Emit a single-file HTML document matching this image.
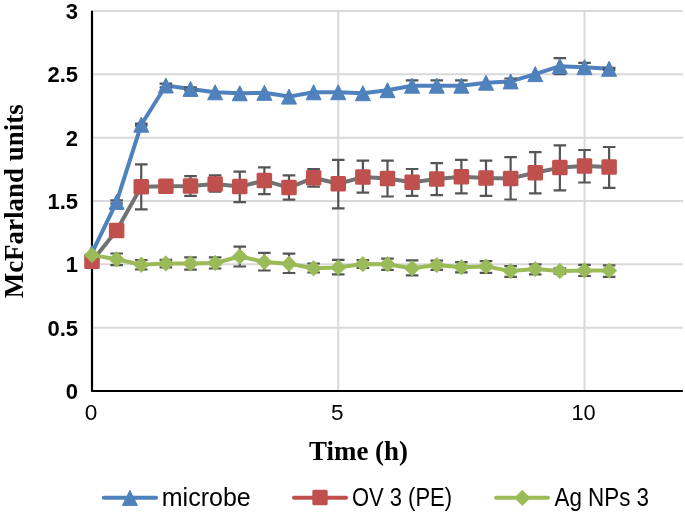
<!DOCTYPE html><html><head><meta charset="utf-8"><style>html,body{margin:0;padding:0;background:#fff;}svg{display:block;will-change:transform;}</style></head><body>
<svg width="685" height="514" viewBox="0 0 685 514">
<rect width="685" height="514" fill="#fff"/>
<path d="M93 327.67H683 M93 264.33H683 M93 201H683 M93 137.66H683 M93 74.32H683 M93 10.99H683 M338.25 11V390 M584.5 11V390" stroke="#D9D9D9" stroke-width="2" fill="none"/>
<path d="M92 11.6V391H682" stroke="#000" stroke-width="2.2" fill="none" stroke-linecap="round" stroke-linejoin="round"/>
<path d="M92 252.9L116.62 201.9L141.25 124.7L165.88 85.5L190.5 88.9L215.12 92.3L239.75 93.3L264.38 92.8L289 96.6L313.62 92.3L338.25 92.2L362.88 93.2L387.5 90.2L412.12 85.7L436.75 85.7L461.38 85.7L486 82.7L510.62 81.4L535.25 74.1L559.88 66.2L584.5 67.2L609.12 68.8" stroke="#4F81BD" stroke-width="4.0" fill="none" stroke-linejoin="round" stroke-linecap="round"/>
<g stroke="#555555" stroke-width="2.2" fill="none"><path d="M116.62 200.4V203.4M110.33 200.4H122.92M110.33 203.4H122.92"/><path d="M141.25 123.7V125.7M134.95 123.7H147.55M134.95 125.7H147.55"/><path d="M165.88 83.7V87.3M159.57 83.7H172.18M159.57 87.3H172.18"/><path d="M190.5 87.4V90.4M184.2 87.4H196.8M184.2 90.4H196.8"/><path d="M412.12 80.3V91.1M405.82 80.3H418.43M405.82 91.1H418.43"/><path d="M436.75 80.3V91.1M430.45 80.3H443.05M430.45 91.1H443.05"/><path d="M461.38 80.3V91.1M455.07 80.3H467.68M455.07 91.1H467.68"/><path d="M510.62 78.5V84.3M504.32 78.5H516.92M504.32 84.3H516.92"/><path d="M559.88 58.15V74.25M553.58 58.15H566.17M553.58 74.25H566.17"/><path d="M584.5 62.8V71.6M578.2 62.8H590.8M578.2 71.6H590.8"/><path d="M609.12 67.8V69.8M602.83 67.8H615.42M602.83 69.8H615.42"/></g>
<path d="M92 245.4L99.5 260.4L84.5 260.4Z" fill="#4F81BD" stroke="#4F81BD" stroke-width="1" stroke-linejoin="round"/><path d="M116.62 194.4L124.12 209.4L109.12 209.4Z" fill="#4F81BD" stroke="#4F81BD" stroke-width="1" stroke-linejoin="round"/><path d="M141.25 117.2L148.75 132.2L133.75 132.2Z" fill="#4F81BD" stroke="#4F81BD" stroke-width="1" stroke-linejoin="round"/><path d="M165.88 78L173.38 93L158.38 93Z" fill="#4F81BD" stroke="#4F81BD" stroke-width="1" stroke-linejoin="round"/><path d="M190.5 81.4L198 96.4L183 96.4Z" fill="#4F81BD" stroke="#4F81BD" stroke-width="1" stroke-linejoin="round"/><path d="M215.12 84.8L222.62 99.8L207.62 99.8Z" fill="#4F81BD" stroke="#4F81BD" stroke-width="1" stroke-linejoin="round"/><path d="M239.75 85.8L247.25 100.8L232.25 100.8Z" fill="#4F81BD" stroke="#4F81BD" stroke-width="1" stroke-linejoin="round"/><path d="M264.38 85.3L271.88 100.3L256.88 100.3Z" fill="#4F81BD" stroke="#4F81BD" stroke-width="1" stroke-linejoin="round"/><path d="M289 89.1L296.5 104.1L281.5 104.1Z" fill="#4F81BD" stroke="#4F81BD" stroke-width="1" stroke-linejoin="round"/><path d="M313.62 84.8L321.12 99.8L306.12 99.8Z" fill="#4F81BD" stroke="#4F81BD" stroke-width="1" stroke-linejoin="round"/><path d="M338.25 84.7L345.75 99.7L330.75 99.7Z" fill="#4F81BD" stroke="#4F81BD" stroke-width="1" stroke-linejoin="round"/><path d="M362.88 85.7L370.38 100.7L355.38 100.7Z" fill="#4F81BD" stroke="#4F81BD" stroke-width="1" stroke-linejoin="round"/><path d="M387.5 82.7L395 97.7L380 97.7Z" fill="#4F81BD" stroke="#4F81BD" stroke-width="1" stroke-linejoin="round"/><path d="M412.12 78.2L419.62 93.2L404.62 93.2Z" fill="#4F81BD" stroke="#4F81BD" stroke-width="1" stroke-linejoin="round"/><path d="M436.75 78.2L444.25 93.2L429.25 93.2Z" fill="#4F81BD" stroke="#4F81BD" stroke-width="1" stroke-linejoin="round"/><path d="M461.38 78.2L468.88 93.2L453.88 93.2Z" fill="#4F81BD" stroke="#4F81BD" stroke-width="1" stroke-linejoin="round"/><path d="M486 75.2L493.5 90.2L478.5 90.2Z" fill="#4F81BD" stroke="#4F81BD" stroke-width="1" stroke-linejoin="round"/><path d="M510.62 73.9L518.12 88.9L503.12 88.9Z" fill="#4F81BD" stroke="#4F81BD" stroke-width="1" stroke-linejoin="round"/><path d="M535.25 66.6L542.75 81.6L527.75 81.6Z" fill="#4F81BD" stroke="#4F81BD" stroke-width="1" stroke-linejoin="round"/><path d="M559.88 58.7L567.38 73.7L552.38 73.7Z" fill="#4F81BD" stroke="#4F81BD" stroke-width="1" stroke-linejoin="round"/><path d="M584.5 59.7L592 74.7L577 74.7Z" fill="#4F81BD" stroke="#4F81BD" stroke-width="1" stroke-linejoin="round"/><path d="M609.12 61.3L616.62 76.3L601.62 76.3Z" fill="#4F81BD" stroke="#4F81BD" stroke-width="1" stroke-linejoin="round"/>
<path d="M92 261.2L116.62 230.5L141.25 186.7L165.88 186.3L190.5 186.1L215.12 183.9L239.75 186.6L264.38 180.6L289 187.6L313.62 177.8L338.25 183.8L362.88 177.1L387.5 178.5L412.12 182.2L436.75 179L461.38 176.7L486 178L510.62 178.4L535.25 172.8L559.88 167.6L584.5 166L609.12 167.1" stroke="#727272" stroke-width="4.0" fill="none" stroke-linejoin="round" stroke-linecap="round"/>
<g stroke="#555555" stroke-width="2.2" fill="none"><path d="M141.25 164.4V209.4M134.95 164.4H147.55M134.95 209.4H147.55"/><path d="M190.5 176.2V195.9M184.2 176.2H196.8M184.2 195.9H196.8"/><path d="M215.12 175.3V191.7M208.82 175.3H221.43M208.82 191.7H221.43"/><path d="M239.75 171.7V202.2M233.45 171.7H246.05M233.45 202.2H246.05"/><path d="M264.38 167.4V194.2M258.07 167.4H270.68M258.07 194.2H270.68"/><path d="M289 175.3V199.6M282.7 175.3H295.3M282.7 199.6H295.3"/><path d="M313.62 169.1V186.7M307.32 169.1H319.93M307.32 186.7H319.93"/><path d="M338.25 159.9V208.3M331.95 159.9H344.55M331.95 208.3H344.55"/><path d="M362.88 160.7V192.7M356.57 160.7H369.18M356.57 192.7H369.18"/><path d="M387.5 160.6V196.5M381.2 160.6H393.8M381.2 196.5H393.8"/><path d="M412.12 169V195.8M405.82 169H418.43M405.82 195.8H418.43"/><path d="M436.75 163.1V195.1M430.45 163.1H443.05M430.45 195.1H443.05"/><path d="M461.38 159.9V193.4M455.07 159.9H467.68M455.07 193.4H467.68"/><path d="M486 160.6V195.8M479.7 160.6H492.3M479.7 195.8H492.3"/><path d="M510.62 157.2V199.5M504.32 157.2H516.92M504.32 199.5H516.92"/><path d="M535.25 152.2V193.4M528.95 152.2H541.55M528.95 193.4H541.55"/><path d="M559.88 145.3V190.3M553.58 145.3H566.17M553.58 190.3H566.17"/><path d="M584.5 150V182.5M578.2 150H590.8M578.2 182.5H590.8"/><path d="M609.12 147V187.8M602.83 147H615.42M602.83 187.8H615.42"/></g>
<rect x="84.25" y="253.45" width="15.5" height="15.5" rx="1.5" fill="#C0504D"/><rect x="108.88" y="222.75" width="15.5" height="15.5" rx="1.5" fill="#C0504D"/><rect x="133.5" y="178.95" width="15.5" height="15.5" rx="1.5" fill="#C0504D"/><rect x="158.12" y="178.55" width="15.5" height="15.5" rx="1.5" fill="#C0504D"/><rect x="182.75" y="178.35" width="15.5" height="15.5" rx="1.5" fill="#C0504D"/><rect x="207.38" y="176.15" width="15.5" height="15.5" rx="1.5" fill="#C0504D"/><rect x="232" y="178.85" width="15.5" height="15.5" rx="1.5" fill="#C0504D"/><rect x="256.62" y="172.85" width="15.5" height="15.5" rx="1.5" fill="#C0504D"/><rect x="281.25" y="179.85" width="15.5" height="15.5" rx="1.5" fill="#C0504D"/><rect x="305.88" y="170.05" width="15.5" height="15.5" rx="1.5" fill="#C0504D"/><rect x="330.5" y="176.05" width="15.5" height="15.5" rx="1.5" fill="#C0504D"/><rect x="355.12" y="169.35" width="15.5" height="15.5" rx="1.5" fill="#C0504D"/><rect x="379.75" y="170.75" width="15.5" height="15.5" rx="1.5" fill="#C0504D"/><rect x="404.38" y="174.45" width="15.5" height="15.5" rx="1.5" fill="#C0504D"/><rect x="429" y="171.25" width="15.5" height="15.5" rx="1.5" fill="#C0504D"/><rect x="453.62" y="168.95" width="15.5" height="15.5" rx="1.5" fill="#C0504D"/><rect x="478.25" y="170.25" width="15.5" height="15.5" rx="1.5" fill="#C0504D"/><rect x="502.88" y="170.65" width="15.5" height="15.5" rx="1.5" fill="#C0504D"/><rect x="527.5" y="165.05" width="15.5" height="15.5" rx="1.5" fill="#C0504D"/><rect x="552.12" y="159.85" width="15.5" height="15.5" rx="1.5" fill="#C0504D"/><rect x="576.75" y="158.25" width="15.5" height="15.5" rx="1.5" fill="#C0504D"/><rect x="601.38" y="159.35" width="15.5" height="15.5" rx="1.5" fill="#C0504D"/>
<path d="M92 255.1L116.62 259.3L141.25 264.7L165.88 263.5L190.5 263.5L215.12 263L239.75 256.5L264.38 261.9L289 263.8L313.62 268.3L338.25 267.4L362.88 264.1L387.5 264.2L412.12 268.3L436.75 265.1L461.38 267.2L486 266.4L510.62 271.1L535.25 269.1L559.88 271L584.5 270.4L609.12 270.6" stroke="#9BBB59" stroke-width="4.0" fill="none" stroke-linejoin="round" stroke-linecap="round"/>
<g stroke="#555555" stroke-width="2.2" fill="none"><path d="M116.62 253.5V265.1M110.33 253.5H122.92M110.33 265.1H122.92"/><path d="M141.25 260V269.5M134.95 260H147.55M134.95 269.5H147.55"/><path d="M165.88 259.8V267.3M159.57 259.8H172.18M159.57 267.3H172.18"/><path d="M190.5 257.3V269.7M184.2 257.3H196.8M184.2 269.7H196.8"/><path d="M215.12 257.3V268.5M208.82 257.3H221.43M208.82 268.5H221.43"/><path d="M239.75 246.7V266.5M233.45 246.7H246.05M233.45 266.5H246.05"/><path d="M264.38 252.9V270.5M258.07 252.9H270.68M258.07 270.5H270.68"/><path d="M289 253.6V273M282.7 253.6H295.3M282.7 273H295.3"/><path d="M313.62 263.5V272.5M307.32 263.5H319.93M307.32 272.5H319.93"/><path d="M338.25 259.9V274.3M331.95 259.9H344.55M331.95 274.3H344.55"/><path d="M362.88 260.1V268M356.57 260.1H369.18M356.57 268H369.18"/><path d="M387.5 258.7V269.8M381.2 258.7H393.8M381.2 269.8H393.8"/><path d="M412.12 260.4V275.3M405.82 260.4H418.43M405.82 275.3H418.43"/><path d="M436.75 260.6V269.8M430.45 260.6H443.05M430.45 269.8H443.05"/><path d="M461.38 262.1V272.3M455.07 262.1H467.68M455.07 272.3H467.68"/><path d="M486 261.1V272.8M479.7 261.1H492.3M479.7 272.8H492.3"/><path d="M510.62 266.1V276.8M504.32 266.1H516.92M504.32 276.8H516.92"/><path d="M535.25 264.4V274.3M528.95 264.4H541.55M528.95 274.3H541.55"/><path d="M559.88 268.4V273.7M553.58 268.4H566.17M553.58 273.7H566.17"/><path d="M584.5 264.9V276M578.2 264.9H590.8M578.2 276H590.8"/><path d="M609.12 265.4V276.8M602.83 265.4H615.42M602.83 276.8H615.42"/></g>
<path d="M92 247.4L99.7 255.1L92 262.8L84.3 255.1Z" fill="#9BBB59" stroke="#9BBB59" stroke-width="0.8" stroke-linejoin="round"/><path d="M116.62 251.6L124.33 259.3L116.62 267L108.92 259.3Z" fill="#9BBB59" stroke="#9BBB59" stroke-width="0.8" stroke-linejoin="round"/><path d="M141.25 257L148.95 264.7L141.25 272.4L133.55 264.7Z" fill="#9BBB59" stroke="#9BBB59" stroke-width="0.8" stroke-linejoin="round"/><path d="M165.88 255.8L173.57 263.5L165.88 271.2L158.18 263.5Z" fill="#9BBB59" stroke="#9BBB59" stroke-width="0.8" stroke-linejoin="round"/><path d="M190.5 255.8L198.2 263.5L190.5 271.2L182.8 263.5Z" fill="#9BBB59" stroke="#9BBB59" stroke-width="0.8" stroke-linejoin="round"/><path d="M215.12 255.3L222.82 263L215.12 270.7L207.43 263Z" fill="#9BBB59" stroke="#9BBB59" stroke-width="0.8" stroke-linejoin="round"/><path d="M239.75 248.8L247.45 256.5L239.75 264.2L232.05 256.5Z" fill="#9BBB59" stroke="#9BBB59" stroke-width="0.8" stroke-linejoin="round"/><path d="M264.38 254.2L272.07 261.9L264.38 269.6L256.68 261.9Z" fill="#9BBB59" stroke="#9BBB59" stroke-width="0.8" stroke-linejoin="round"/><path d="M289 256.1L296.7 263.8L289 271.5L281.3 263.8Z" fill="#9BBB59" stroke="#9BBB59" stroke-width="0.8" stroke-linejoin="round"/><path d="M313.62 260.6L321.32 268.3L313.62 276L305.93 268.3Z" fill="#9BBB59" stroke="#9BBB59" stroke-width="0.8" stroke-linejoin="round"/><path d="M338.25 259.7L345.95 267.4L338.25 275.1L330.55 267.4Z" fill="#9BBB59" stroke="#9BBB59" stroke-width="0.8" stroke-linejoin="round"/><path d="M362.88 256.4L370.57 264.1L362.88 271.8L355.18 264.1Z" fill="#9BBB59" stroke="#9BBB59" stroke-width="0.8" stroke-linejoin="round"/><path d="M387.5 256.5L395.2 264.2L387.5 271.9L379.8 264.2Z" fill="#9BBB59" stroke="#9BBB59" stroke-width="0.8" stroke-linejoin="round"/><path d="M412.12 260.6L419.82 268.3L412.12 276L404.43 268.3Z" fill="#9BBB59" stroke="#9BBB59" stroke-width="0.8" stroke-linejoin="round"/><path d="M436.75 257.4L444.45 265.1L436.75 272.8L429.05 265.1Z" fill="#9BBB59" stroke="#9BBB59" stroke-width="0.8" stroke-linejoin="round"/><path d="M461.38 259.5L469.07 267.2L461.38 274.9L453.68 267.2Z" fill="#9BBB59" stroke="#9BBB59" stroke-width="0.8" stroke-linejoin="round"/><path d="M486 258.7L493.7 266.4L486 274.1L478.3 266.4Z" fill="#9BBB59" stroke="#9BBB59" stroke-width="0.8" stroke-linejoin="round"/><path d="M510.62 263.4L518.33 271.1L510.62 278.8L502.93 271.1Z" fill="#9BBB59" stroke="#9BBB59" stroke-width="0.8" stroke-linejoin="round"/><path d="M535.25 261.4L542.95 269.1L535.25 276.8L527.55 269.1Z" fill="#9BBB59" stroke="#9BBB59" stroke-width="0.8" stroke-linejoin="round"/><path d="M559.88 263.3L567.58 271L559.88 278.7L552.17 271Z" fill="#9BBB59" stroke="#9BBB59" stroke-width="0.8" stroke-linejoin="round"/><path d="M584.5 262.7L592.2 270.4L584.5 278.1L576.8 270.4Z" fill="#9BBB59" stroke="#9BBB59" stroke-width="0.8" stroke-linejoin="round"/><path d="M609.12 262.9L616.83 270.6L609.12 278.3L601.42 270.6Z" fill="#9BBB59" stroke="#9BBB59" stroke-width="0.8" stroke-linejoin="round"/>
<text x="78" y="18.89" text-anchor="end" style="font-family:&quot;Liberation Sans&quot;,sans-serif;font-weight:bold;font-size:22px" fill="#000">3</text>
<text x="78" y="82.22" text-anchor="end" style="font-family:&quot;Liberation Sans&quot;,sans-serif;font-weight:bold;font-size:22px" fill="#000">2.5</text>
<text x="78" y="145.56" text-anchor="end" style="font-family:&quot;Liberation Sans&quot;,sans-serif;font-weight:bold;font-size:22px" fill="#000">2</text>
<text x="78" y="208.9" text-anchor="end" style="font-family:&quot;Liberation Sans&quot;,sans-serif;font-weight:bold;font-size:22px" fill="#000">1.5</text>
<text x="78" y="272.23" text-anchor="end" style="font-family:&quot;Liberation Sans&quot;,sans-serif;font-weight:bold;font-size:22px" fill="#000">1</text>
<text x="78" y="335.56" text-anchor="end" style="font-family:&quot;Liberation Sans&quot;,sans-serif;font-weight:bold;font-size:22px" fill="#000">0.5</text>
<text x="78" y="398.9" text-anchor="end" style="font-family:&quot;Liberation Sans&quot;,sans-serif;font-weight:bold;font-size:22px" fill="#000">0</text>
<text x="91.1" y="420.1" text-anchor="middle" style="font-family:&quot;Liberation Sans&quot;,sans-serif;font-size:22.6px" fill="#000">0</text>
<text x="337.3" y="420.1" text-anchor="middle" style="font-family:&quot;Liberation Sans&quot;,sans-serif;font-size:22.6px" fill="#000">5</text>
<text x="583.6" y="420.1" text-anchor="middle" style="font-family:&quot;Liberation Sans&quot;,sans-serif;font-size:22.6px" fill="#000" textLength="24.2" lengthAdjust="spacingAndGlyphs">10</text>
<text x="309" y="460.3" style="font-family:&quot;Liberation Serif&quot;,serif;font-weight:bold;font-size:26.5px" fill="#000" textLength="99" lengthAdjust="spacingAndGlyphs">Time (h)</text>
<text transform="translate(22.8,298.3) rotate(-90)" x="0" y="0" style="font-family:&quot;Liberation Serif&quot;,serif;font-weight:bold;font-size:26.5px" fill="#000" textLength="194" lengthAdjust="spacingAndGlyphs">McFarland units</text>
<path d="M103.8 497.8H156.1" stroke="#4F81BD" stroke-width="4.0" stroke-linecap="round"/>
<path d="M129.9 490.4L137.4 505.4L122.4 505.4Z" fill="#4F81BD" stroke="#4F81BD" stroke-width="1" stroke-linejoin="round"/>
<path d="M294 497.8H346" stroke="#C0504D" stroke-width="4.0" stroke-linecap="round"/>
<rect x="312.35" y="489.85" width="15.3" height="15.3" rx="1.5" fill="#C0504D"/>
<path d="M496 497.8H548" stroke="#9BBB59" stroke-width="4.0" stroke-linecap="round"/>
<path d="M522.3 490.2L530 497.9L522.3 505.6L514.6 497.9Z" fill="#9BBB59" stroke="#9BBB59" stroke-width="0.8" stroke-linejoin="round"/>
<text x="161.8" y="506.1" style="font-family:&quot;Liberation Sans&quot;,sans-serif;font-size:25px" fill="#000">microbe</text>
<text x="352" y="506.1" style="font-family:&quot;Liberation Sans&quot;,sans-serif;font-size:25px" fill="#000" textLength="100" lengthAdjust="spacingAndGlyphs">OV 3 (PE)</text>
<text x="554.5" y="506.1" style="font-family:&quot;Liberation Sans&quot;,sans-serif;font-size:25px" fill="#000" textLength="94.5" lengthAdjust="spacingAndGlyphs">Ag NPs 3</text>
</svg></body></html>
